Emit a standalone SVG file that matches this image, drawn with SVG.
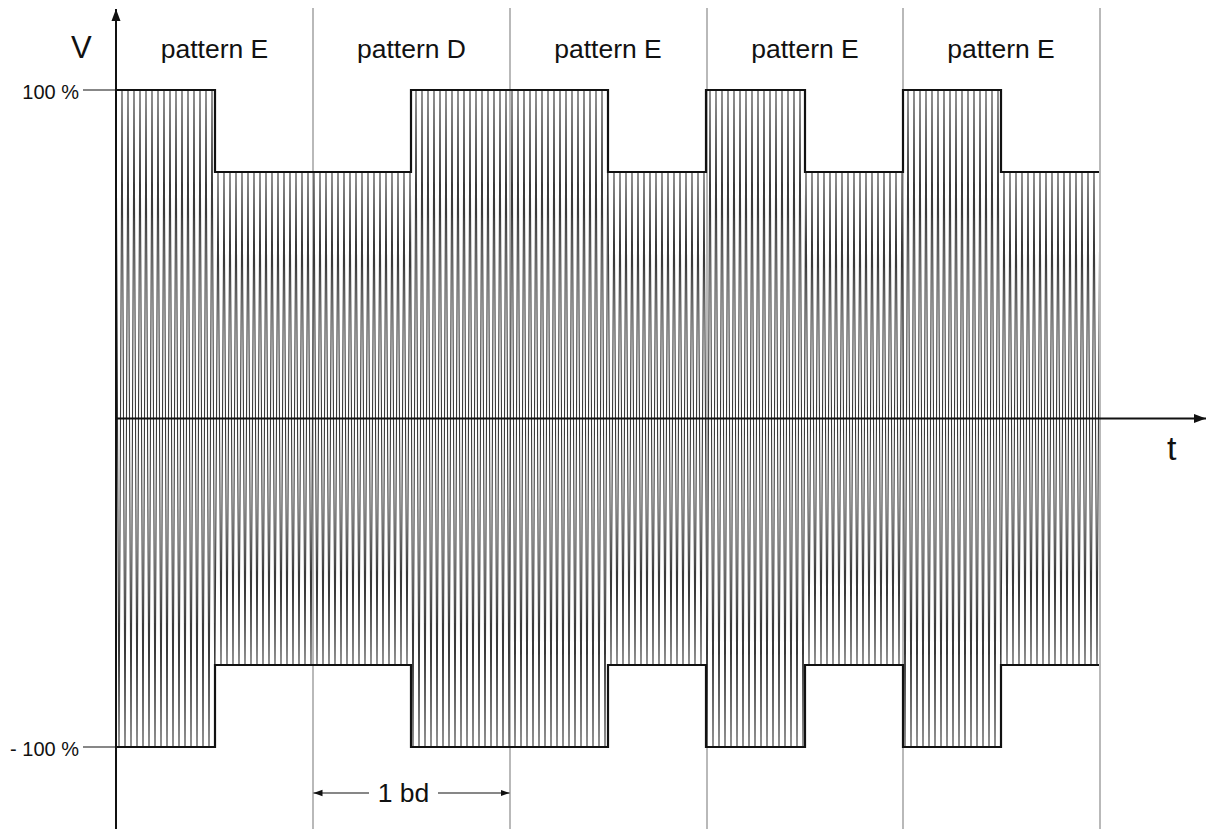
<svg xmlns="http://www.w3.org/2000/svg" width="1207" height="829" viewBox="0 0 1207 829">
<style>
.lbl{font-family:"Liberation Sans",Arial,sans-serif;fill:#111}
.div{stroke:#8a8a8a;stroke-width:1.2;fill:none}
.env{stroke:#111;stroke-width:2.2;fill:none;stroke-linejoin:miter}
.hatch{stroke:#3a3a3a;stroke-width:1.1;fill:none}
.axis{stroke:#111;stroke-width:2;fill:none}
.dim{stroke:#111;stroke-width:1.2;fill:none}
</style>
<defs>
<marker id="ah" markerUnits="userSpaceOnUse" markerWidth="13" markerHeight="11" refX="12" refY="5.5" orient="auto">
<path d="M0,1 L12,5.5 L0,10 Z" fill="#111"/>
</marker>
<marker id="dh" markerUnits="userSpaceOnUse" markerWidth="10" markerHeight="8" refX="9" refY="4" orient="auto">
<path d="M0,0.8 L9,4 L0,7.2 Z" fill="#111"/>
</marker>
<clipPath id="cHigh">
<rect x="116" y="80" width="99" height="680"/>
<rect x="411" y="80" width="197" height="680"/>
<rect x="706" y="80" width="99" height="680"/>
<rect x="903" y="80" width="98" height="680"/>
</clipPath>
<clipPath id="cLow">
<rect x="215" y="80" width="196" height="680"/>
<rect x="608" y="80" width="98" height="680"/>
<rect x="805" y="80" width="98" height="680"/>
<rect x="1001" y="80" width="98" height="680"/>
</clipPath>
</defs>
<rect width="1207" height="829" fill="#fff"/>
<g id="dividers">
<line class="div" x1="313" y1="8" x2="313" y2="829"/>
<line class="div" x1="510" y1="8" x2="510" y2="829"/>
<line class="div" x1="707" y1="8" x2="707" y2="829"/>
<line class="div" x1="903" y1="8" x2="903" y2="829"/>
<line class="div" x1="1100" y1="8" x2="1100" y2="829"/>
</g>
<g id="signal">
<path class="hatch" clip-path="url(#cHigh)" d="M116,90
l3,657 l3,-657 l3,657 l3,-657 l3,657 l3,-657 l3,657 l3,-657 l3,657 l3,-657 l3,657 l3,-657 l3,657 l3,-657 l3,657 l3,-657 l3,657 l3,-657 l3,657 l3,-657
l3,657 l3,-657 l3,657 l3,-657 l3,657 l3,-657 l3,657 l3,-657 l3,657 l3,-657 l3,657 l3,-657 l3,657 l3,-657 l3,657 l3,-657 l3,657 l3,-657 l3,657 l3,-657
l3,657 l3,-657 l3,657 l3,-657 l3,657 l3,-657 l3,657 l3,-657 l3,657 l3,-657 l3,657 l3,-657 l3,657 l3,-657 l3,657 l3,-657 l3,657 l3,-657 l3,657 l3,-657
l3,657 l3,-657 l3,657 l3,-657 l3,657 l3,-657 l3,657 l3,-657 l3,657 l3,-657 l3,657 l3,-657 l3,657 l3,-657 l3,657 l3,-657 l3,657 l3,-657 l3,657 l3,-657
l3,657 l3,-657 l3,657 l3,-657 l3,657 l3,-657 l3,657 l3,-657 l3,657 l3,-657 l3,657 l3,-657 l3,657 l3,-657 l3,657 l3,-657 l3,657 l3,-657 l3,657 l3,-657
l3,657 l3,-657 l3,657 l3,-657 l3,657 l3,-657 l3,657 l3,-657 l3,657 l3,-657 l3,657 l3,-657 l3,657 l3,-657 l3,657 l3,-657 l3,657 l3,-657 l3,657 l3,-657
l3,657 l3,-657 l3,657 l3,-657 l3,657 l3,-657 l3,657 l3,-657 l3,657 l3,-657 l3,657 l3,-657 l3,657 l3,-657 l3,657 l3,-657 l3,657 l3,-657 l3,657 l3,-657
l3,657 l3,-657 l3,657 l3,-657 l3,657 l3,-657 l3,657 l3,-657 l3,657 l3,-657 l3,657 l3,-657 l3,657 l3,-657 l3,657 l3,-657 l3,657 l3,-657 l3,657 l3,-657
l3,657 l3,-657 l3,657 l3,-657 l3,657 l3,-657 l3,657 l3,-657 l3,657 l3,-657 l3,657 l3,-657 l3,657 l3,-657 l3,657 l3,-657 l3,657 l3,-657 l3,657 l3,-657
l3,657 l3,-657 l3,657 l3,-657 l3,657 l3,-657 l3,657 l3,-657 l3,657 l3,-657 l3,657 l3,-657 l3,657 l3,-657 l3,657 l3,-657 l3,657 l3,-657 l3,657 l3,-657
l3,657 l3,-657 l3,657 l3,-657 l3,657 l3,-657 l3,657 l3,-657 l3,657 l3,-657 l3,657 l3,-657 l3,657 l3,-657 l3,657 l3,-657 l3,657 l3,-657 l3,657 l3,-657
l3,657 l3,-657 l3,657 l3,-657 l3,657 l3,-657 l3,657 l3,-657 l3,657 l3,-657 l3,657 l3,-657 l3,657 l3,-657 l3,657 l3,-657 l3,657 l3,-657 l3,657 l3,-657
l3,657 l3,-657 l3,657 l3,-657 l3,657 l3,-657 l3,657 l3,-657 l3,657 l3,-657 l3,657 l3,-657 l3,657 l3,-657 l3,657 l3,-657 l3,657 l3,-657 l3,657 l3,-657
l3,657 l3,-657 l3,657 l3,-657 l3,657 l3,-657 l3,657 l3,-657 l3,657 l3,-657 l3,657 l3,-657 l3,657 l3,-657 l3,657 l3,-657 l3,657 l3,-657 l3,657 l3,-657
l3,657 l3,-657 l3,657 l3,-657 l3,657 l3,-657 l3,657 l3,-657 l3,657 l3,-657 l3,657 l3,-657 l3,657 l3,-657 l3,657 l3,-657 l3,657 l3,-657 l3,657 l3,-657
l3,657 l3,-657 l3,657 l3,-657 l3,657 l3,-657 l3,657 l3,-657 l3,657 l3,-657 l3,657 l3,-657 l3,657 l3,-657 l3,657 l3,-657 l3,657 l3,-657 l3,657 l3,-657
l3,657 l3,-657 l3,657 l3,-657 l3,657 l3,-657 l3,657 l3,-657 l3,657 l3,-657 l3,657 l3,-657 l3,657 l3,-657 l3,657 l3,-657 l3,657 l3,-657 l3,657 l3,-657"/>
<path class="hatch" clip-path="url(#cLow)" d="M116,172
l3,493 l3,-493 l3,493 l3,-493 l3,493 l3,-493 l3,493 l3,-493 l3,493 l3,-493 l3,493 l3,-493 l3,493 l3,-493 l3,493 l3,-493 l3,493 l3,-493 l3,493 l3,-493
l3,493 l3,-493 l3,493 l3,-493 l3,493 l3,-493 l3,493 l3,-493 l3,493 l3,-493 l3,493 l3,-493 l3,493 l3,-493 l3,493 l3,-493 l3,493 l3,-493 l3,493 l3,-493
l3,493 l3,-493 l3,493 l3,-493 l3,493 l3,-493 l3,493 l3,-493 l3,493 l3,-493 l3,493 l3,-493 l3,493 l3,-493 l3,493 l3,-493 l3,493 l3,-493 l3,493 l3,-493
l3,493 l3,-493 l3,493 l3,-493 l3,493 l3,-493 l3,493 l3,-493 l3,493 l3,-493 l3,493 l3,-493 l3,493 l3,-493 l3,493 l3,-493 l3,493 l3,-493 l3,493 l3,-493
l3,493 l3,-493 l3,493 l3,-493 l3,493 l3,-493 l3,493 l3,-493 l3,493 l3,-493 l3,493 l3,-493 l3,493 l3,-493 l3,493 l3,-493 l3,493 l3,-493 l3,493 l3,-493
l3,493 l3,-493 l3,493 l3,-493 l3,493 l3,-493 l3,493 l3,-493 l3,493 l3,-493 l3,493 l3,-493 l3,493 l3,-493 l3,493 l3,-493 l3,493 l3,-493 l3,493 l3,-493
l3,493 l3,-493 l3,493 l3,-493 l3,493 l3,-493 l3,493 l3,-493 l3,493 l3,-493 l3,493 l3,-493 l3,493 l3,-493 l3,493 l3,-493 l3,493 l3,-493 l3,493 l3,-493
l3,493 l3,-493 l3,493 l3,-493 l3,493 l3,-493 l3,493 l3,-493 l3,493 l3,-493 l3,493 l3,-493 l3,493 l3,-493 l3,493 l3,-493 l3,493 l3,-493 l3,493 l3,-493
l3,493 l3,-493 l3,493 l3,-493 l3,493 l3,-493 l3,493 l3,-493 l3,493 l3,-493 l3,493 l3,-493 l3,493 l3,-493 l3,493 l3,-493 l3,493 l3,-493 l3,493 l3,-493
l3,493 l3,-493 l3,493 l3,-493 l3,493 l3,-493 l3,493 l3,-493 l3,493 l3,-493 l3,493 l3,-493 l3,493 l3,-493 l3,493 l3,-493 l3,493 l3,-493 l3,493 l3,-493
l3,493 l3,-493 l3,493 l3,-493 l3,493 l3,-493 l3,493 l3,-493 l3,493 l3,-493 l3,493 l3,-493 l3,493 l3,-493 l3,493 l3,-493 l3,493 l3,-493 l3,493 l3,-493
l3,493 l3,-493 l3,493 l3,-493 l3,493 l3,-493 l3,493 l3,-493 l3,493 l3,-493 l3,493 l3,-493 l3,493 l3,-493 l3,493 l3,-493 l3,493 l3,-493 l3,493 l3,-493
l3,493 l3,-493 l3,493 l3,-493 l3,493 l3,-493 l3,493 l3,-493 l3,493 l3,-493 l3,493 l3,-493 l3,493 l3,-493 l3,493 l3,-493 l3,493 l3,-493 l3,493 l3,-493
l3,493 l3,-493 l3,493 l3,-493 l3,493 l3,-493 l3,493 l3,-493 l3,493 l3,-493 l3,493 l3,-493 l3,493 l3,-493 l3,493 l3,-493 l3,493 l3,-493 l3,493 l3,-493
l3,493 l3,-493 l3,493 l3,-493 l3,493 l3,-493 l3,493 l3,-493 l3,493 l3,-493 l3,493 l3,-493 l3,493 l3,-493 l3,493 l3,-493 l3,493 l3,-493 l3,493 l3,-493
l3,493 l3,-493 l3,493 l3,-493 l3,493 l3,-493 l3,493 l3,-493 l3,493 l3,-493 l3,493 l3,-493 l3,493 l3,-493 l3,493 l3,-493 l3,493 l3,-493 l3,493 l3,-493
l3,493 l3,-493 l3,493 l3,-493 l3,493 l3,-493 l3,493 l3,-493 l3,493 l3,-493 l3,493 l3,-493 l3,493 l3,-493 l3,493 l3,-493 l3,493 l3,-493 l3,493 l3,-493"/>
<path class="env" d="M116,90 H215 V172 H411 V90 H608 V172 H706 V90 H805 V172 H903 V90 H1001 V172 H1099"/>
<path class="env" d="M116,747 H215 V665 H411 V747 H608 V665 H706 V747 H805 V665 H903 V747 H1001 V665 H1099"/>
</g>
<g id="connectors">
<line class="axis" x1="116" y1="829" x2="116" y2="9" marker-end="url(#ah)"/>
<line class="axis" x1="116" y1="418.5" x2="1206" y2="418.5" marker-end="url(#ah)"/>
<line class="dim" x1="83" y1="90" x2="116" y2="90"/>
<line class="dim" x1="83" y1="747" x2="116" y2="747"/>
<line class="dim" x1="369" y1="793" x2="313.5" y2="793" marker-end="url(#dh)"/>
<line class="dim" x1="438" y1="793" x2="509.5" y2="793" marker-end="url(#dh)"/>
</g>
<g id="axis-labels">
<text class="lbl" x="71" y="58" font-size="31">V</text>
<text class="lbl" x="1167" y="460" font-size="34">t</text>
<text class="lbl" x="79" y="99" font-size="20" text-anchor="end">100 %</text>
<text class="lbl" x="79" y="756" font-size="20" text-anchor="end">- 100 %</text>
<text class="lbl" x="403.5" y="802" font-size="26.5" text-anchor="middle">1 bd</text>
</g>
<g id="pattern1"><text class="lbl" x="214.5" y="58" font-size="26.5" text-anchor="middle">pattern E</text></g>
<g id="pattern2"><text class="lbl" x="411.5" y="58" font-size="26.5" text-anchor="middle">pattern D</text></g>
<g id="pattern3"><text class="lbl" x="608" y="58" font-size="26.5" text-anchor="middle">pattern E</text></g>
<g id="pattern4"><text class="lbl" x="805" y="58" font-size="26.5" text-anchor="middle">pattern E</text></g>
<g id="pattern5"><text class="lbl" x="1001" y="58" font-size="26.5" text-anchor="middle">pattern E</text></g>
</svg>
